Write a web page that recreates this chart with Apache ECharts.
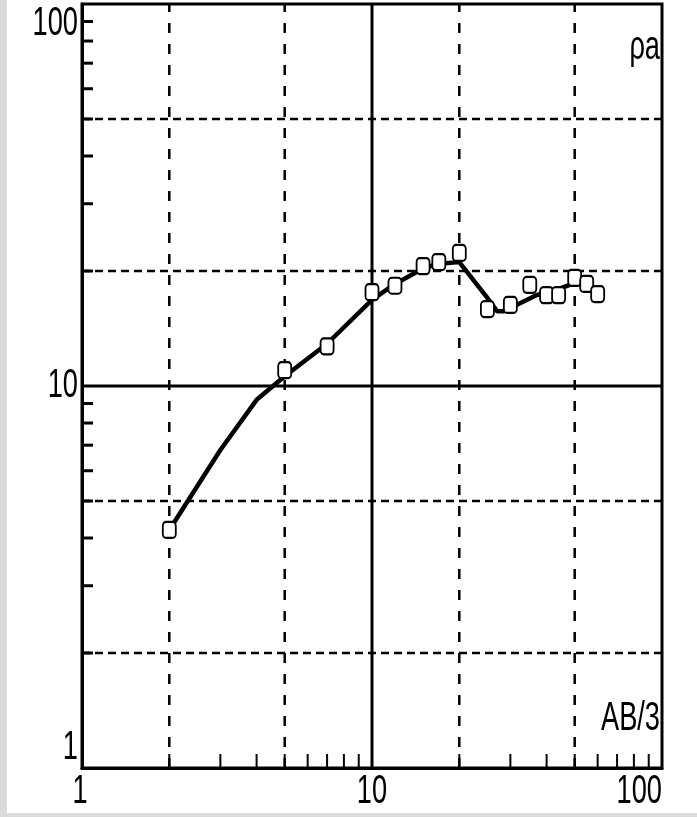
<!DOCTYPE html>
<html>
<head>
<meta charset="utf-8">
<script src="https://cdn.jsdelivr.net/npm/echarts@6/dist/echarts.min.js"></script>
<style>
  html, body { margin: 0; padding: 0; background: #fff; }
  #chart { width: 697px; height: 817px; }
</style>
</head>
<body>
<div id="chart"></div>
<script>
// Wenner sounding: apparent resistivity against electrode spacing AB/3, log-log
const spacing = [2, 5, 7, 10, 12, 15, 17, 20, 25, 30, 35, 40, 44, 50, 55, 60];
const rhoMeasured = [4.2, 11.0, 12.7, 17.6, 18.3, 20.6, 21.1, 22.3, 15.9, 16.3, 18.4, 17.3, 17.3, 19.2, 18.5, 17.4];

// interpreted sounding curve
const curveSpacing = [2, 3, 4, 5, 7, 10, 12, 15, 17, 20, 25, 27, 28.5, 32, 37, 41, 50, 54];
const curveRho = [4.2, 6.8, 9.2, 10.6, 12.9, 16.8, 18.5, 20.3, 20.9, 21.1, 17.0, 15.7, 15.7, 16.4, 17.3, 17.6, 18.6, 18.8];

const axisRange = [1, 100];
const decadeLabels = [1, 10, 100];
const dashedGrid = [2, 5, 20, 50];
const solidGrid = [10];
const minorTicks = [2, 3, 4, 5, 6, 7, 8, 9, 20, 30, 40, 50, 60, 70, 80, 90];

const FONT = "'Liberation Sans', Arial, sans-serif";
const LABEL_FONT = '40px ' + FONT;
const SQUEEZE = 0.68; // narrow, tall lettering
const [lo, hi] = axisRange;

function gridRenderer(dash, width) {
  return function (params, api) {
    const v = api.value(0);
    const vb = api.coord([v, lo]);
    const vt = api.coord([v, hi]);
    const hl = api.coord([lo, v]);
    const hr = api.coord([hi, v]);
    return {
      type: 'group',
      children: [
        { type: 'line', shape: { x1: vb[0], y1: vb[1], x2: vt[0], y2: vt[1] },
          style: { stroke: '#000', lineWidth: width, lineDash: dash ? dash.v : null } },
        { type: 'line', shape: { x1: hl[0], y1: hl[1], x2: hr[0], y2: hr[1] },
          style: { stroke: '#000', lineWidth: width, lineDash: dash ? dash.h : null } }
      ]
    };
  };
}

function tickRenderer(params, api) {
  const v = api.value(0);
  const b = api.coord([v, lo]);
  const l = api.coord([lo, v]);
  return {
    type: 'group',
    children: [
      { type: 'line', shape: { x1: b[0], y1: b[1], x2: b[0], y2: b[1] - 14 },
        style: { stroke: '#000', lineWidth: 2 } },
      { type: 'line', shape: { x1: l[0], y1: l[1], x2: l[0] + 11, y2: l[1] },
        style: { stroke: '#000', lineWidth: 3 } }
    ]
  };
}

// decade labels on both axes, drawn narrow
function decadeLabelRenderer(params, api) {
  const v = api.value(0);
  const b = api.coord([v, lo]);
  const l = api.coord([lo, v]);
  const text = String(v);
  return {
    type: 'group',
    children: [
      { type: 'text', x: b[0] + (v === lo ? -2 : 0), y: b[1] + 4, scaleX: SQUEEZE,
        style: { text, font: LABEL_FONT, fill: '#000',
                 align: v === hi ? 'right' : 'center', verticalAlign: 'top' } },
      { type: 'text', x: l[0] - 4, y: l[1], scaleX: SQUEEZE,
        style: { text, font: LABEL_FONT, fill: '#000', align: 'right',
                 verticalAlign: v === lo ? 'bottom' : (v === hi ? 'top' : 'middle') } }
    ]
  };
}

const logAxis = {
  type: 'log',
  logBase: 10,
  min: lo,
  max: hi,
  axisLine: { show: true, lineStyle: { color: '#000', width: 3 } },
  axisTick: { show: false },
  splitLine: { show: false },
  minorTick: { show: false },
  axisLabel: { show: false }
};

const chart = echarts.init(document.getElementById('chart'));
chart.setOption({
  animation: false,
  backgroundColor: '#fff',
  grid: {
    left: 82, right: 35, top: 4, bottom: 49,
    show: true, borderColor: '#000', borderWidth: 3, backgroundColor: 'transparent'
  },
  xAxis: logAxis,
  yAxis: logAxis,
  graphic: [
    { type: 'rect', left: 0, top: 0, shape: { width: 7, height: 817 }, style: { fill: '#dadada' }, z: -10 },
    { type: 'rect', left: 0, bottom: 0, shape: { width: 697, height: 4 }, style: { fill: '#dadada' }, z: -10 },
    { type: 'text', x: 660, y: 48, scaleX: SQUEEZE,
      style: { text: 'ρa', font: LABEL_FONT, fill: '#000', align: 'right', verticalAlign: 'middle' }, z: 10 },
    { type: 'text', x: 660, y: 719, scaleX: SQUEEZE,
      style: { text: 'AB/3', font: LABEL_FONT, fill: '#000', align: 'right', verticalAlign: 'middle' }, z: 10 }
  ],
  series: [
    {
      type: 'custom', name: 'grid-dashed', coordinateSystem: 'cartesian2d', silent: true, z: 1,
      data: dashedGrid.map(v => [v, v]),
      renderItem: gridRenderer({ v: [10, 11], h: [8, 5] }, 2.5)
    },
    {
      type: 'custom', name: 'grid-solid', coordinateSystem: 'cartesian2d', silent: true, z: 1,
      data: solidGrid.map(v => [v, v]),
      renderItem: gridRenderer(null, 3)
    },
    {
      type: 'custom', name: 'ticks', coordinateSystem: 'cartesian2d', silent: true, z: 1,
      data: minorTicks.map(v => [v, v]),
      renderItem: tickRenderer
    },
    {
      type: 'custom', name: 'decade-labels', coordinateSystem: 'cartesian2d', silent: true, z: 5,
      clip: false,
      data: decadeLabels.map(v => [v, v]),
      renderItem: decadeLabelRenderer
    },
    {
      type: 'line', name: 'curve', z: 3,
      data: curveSpacing.map((x, i) => [x, curveRho[i]]),
      showSymbol: false,
      lineStyle: { color: '#000', width: 4.5 }
    },
    {
      type: 'scatter', name: 'measured', z: 4,
      data: spacing.map((x, i) => [x, rhoMeasured[i]]),
      symbol: 'roundRect',
      symbolSize: [13, 16],
      itemStyle: { color: '#fff', borderColor: '#000', borderWidth: 2, opacity: 1 }
    }
  ]
});
</script>
</body>
</html>
